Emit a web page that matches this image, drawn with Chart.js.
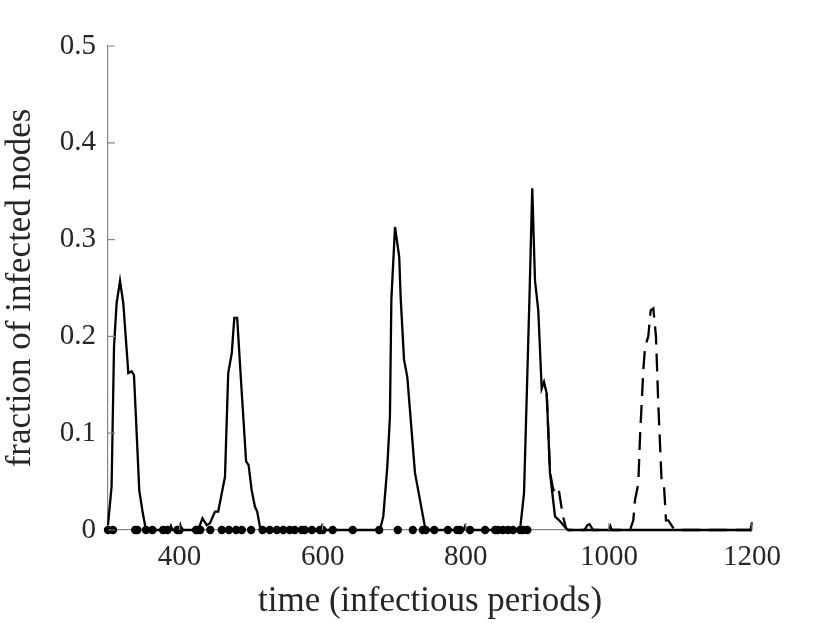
<!DOCTYPE html>
<html>
<head>
<meta charset="utf-8">
<script src="https://cdn.jsdelivr.net/npm/chart.js@4/dist/chart.umd.min.js"></script>
<style>
    html, body { margin: 0; padding: 0; background: #ffffff; }
    canvas { display: block; }
</style>
</head>
<body>
<canvas id="epiChart" width="830" height="623"></canvas>
<script>
// time (infectious periods) and fraction of infected nodes
const solidTime = [300, 305, 308.4, 312, 316.8, 321.4, 328.4, 333, 336.3, 339, 343.7, 348.5, 353,
    386, 388, 390, 399, 401, 403,
    426, 432, 438, 442.5, 449.5, 454, 459, 463.5, 468, 473, 476.5, 480.5, 487, 493, 496.5, 500.8, 505.4, 508.5, 512.4, 516,
    597, 599, 601,
    680, 684.7, 690.3, 694, 696, 701.1, 707, 709, 713.7, 718.3, 729, 736, 743, 745.4,
    797, 799, 801,
    875.8, 881.4, 886, 889, 892.9, 896.7, 901.3, 906.1, 909.3, 913.1, 917.7, 924.7, 931.7, 940, 943.3,
    966, 970, 973, 978,
    1198, 1200];
const solidFrac = [0.005, 0.045, 0.189, 0.234, 0.2575, 0.234, 0.162, 0.164, 0.160, 0.117, 0.041, 0.018, 0,
    0, 0.004, 0, 0, 0.005, 0,
    0, 0.012, 0.005, 0.007, 0.019, 0.019, 0.038, 0.055, 0.162, 0.183, 0.219, 0.219, 0.141, 0.071, 0.067, 0.041, 0.024, 0.019, 0.003, 0,
    0, 0.004, 0,
    0, 0.014, 0.065, 0.117, 0.238, 0.313, 0.282, 0.24, 0.176, 0.158, 0.059, 0.031, 0.003, 0,
    0, 0.004, 0,
    0, 0.038, 0.16, 0.24, 0.353, 0.258, 0.227, 0.146, 0.153, 0.141, 0.059, 0.014, 0.009, 0.002, 0,
    0, 0.005, 0.006, 0,
    0, 0.008];

// second run, dashed, only where it leaves the solid one
const dashTime = [913.1, 917.7, 922.3, 929.3, 935.5, 940, 943,
    1000, 1002, 1004,
    1029.5, 1034.1, 1036.5, 1041.1, 1043.5, 1048.1, 1050.5, 1055.1, 1058.4, 1062.1, 1065.8, 1069, 1073.8, 1077, 1079.8, 1083, 1090, 1092.4,
    1200];
const dashFrac = [0.141, 0.06, 0.041, 0.045, 0.015, 0.002, 0,
    0, 0.004, 0,
    0, 0.01, 0.031, 0.048, 0.096, 0.165, 0.189, 0.2, 0.227, 0.229, 0.2, 0.131, 0.048, 0.046, 0.01, 0.01, 0.002, 0,
    0];

// markers sitting on the time axis
const dotTime = [300, 307, 338, 341, 353, 362, 377, 383, 397, 400, 423, 426, 429, 443, 459, 469, 479, 487, 500,
    516, 526, 536, 545, 554, 561, 571, 575, 585, 596, 600, 614, 642, 679, 705, 726, 740, 744, 756,
    775, 788, 792, 806, 827, 841, 845, 852, 859, 866, 876, 880, 886];

const xTicks = [400, 600, 800, 1000, 1200];
const yTicks = [0, 0.1, 0.2, 0.3, 0.4, 0.5];

const AXIS_GRAY = '#858585';
const FONT = '"Liberation Serif", "Times New Roman", serif';

function toPoints(xs, ys) {
    return xs.map((x, i) => ({ x: x, y: ys[i] }));
}

// ticks pointing inward, like the original axes
const inwardTicks = {
    id: 'inwardTicks',
    afterDraw(chart) {
        const ctx = chart.ctx;
        const xs = chart.scales.x;
        const ys = chart.scales.y;
        const area = chart.chartArea;
        ctx.save();
        ctx.strokeStyle = AXIS_GRAY;
        ctx.lineWidth = 1.2;
        ctx.beginPath();
        xTicks.forEach(v => {
            const px = xs.getPixelForValue(v);
            ctx.moveTo(px, area.bottom);
            ctx.lineTo(px, area.bottom - 7);
        });
        yTicks.forEach(v => {
            const py = ys.getPixelForValue(v);
            ctx.moveTo(area.left, py);
            ctx.lineTo(area.left + 7, py);
        });
        ctx.stroke();
        ctx.restore();
    }
};

const ctx = document.getElementById('epiChart').getContext('2d');
new Chart(ctx, {
    type: 'line',
    data: {
        datasets: [
            {
                data: toPoints(dashTime, dashFrac),
                borderColor: '#000000',
                borderWidth: 2.3,
                borderDash: [18, 9],
                pointRadius: 0,
                tension: 0,
                clip: false
            },
            {
                data: toPoints(solidTime, solidFrac),
                borderColor: '#000000',
                borderWidth: 2.3,
                pointRadius: 0,
                tension: 0,
                clip: false
            },
            {
                data: dotTime.map(t => ({ x: t, y: 0 })),
                showLine: false,
                pointRadius: 4.2,
                pointBackgroundColor: '#000000',
                pointBorderColor: '#000000',
                pointBorderWidth: 0,
                clip: false
            }
        ]
    },
    options: {
        responsive: false,
        animation: false,
        layout: {
            padding: { top: 46, right: 78, left: 0, bottom: 0 }
        },
        plugins: {
            legend: { display: false },
            tooltip: { enabled: false }
        },
        scales: {
            x: {
                type: 'linear',
                min: 300,
                max: 1200,
                afterBuildTicks: scale => {
                    scale.ticks = xTicks.map(v => ({ value: v }));
                },
                afterFit: scale => { scale.height = 93; },
                grid: { drawOnChartArea: false, drawTicks: false },
                border: { color: AXIS_GRAY, width: 1.2 },
                ticks: {
                    padding: 10,
                    color: '#262626',
                    font: { family: FONT, size: 29 },
                    maxRotation: 0,
                    callback: v => String(v)
                },
                title: {
                    display: true,
                    text: 'time (infectious periods)',
                    color: '#262626',
                    font: { family: FONT, size: 35 },
                    padding: { top: 2, bottom: 0 }
                }
            },
            y: {
                min: 0,
                max: 0.5,
                afterBuildTicks: scale => {
                    scale.ticks = yTicks.map(v => ({ value: v }));
                },
                afterFit: scale => { scale.width = 108; },
                grid: { drawOnChartArea: false, drawTicks: false },
                border: { color: AXIS_GRAY, width: 1.2 },
                ticks: {
                    padding: 12,
                    color: '#262626',
                    font: { family: FONT, size: 29 },
                    callback: v => (v === 0 ? '0' : v.toFixed(1))
                },
                title: {
                    display: true,
                    text: 'fraction of infected nodes',
                    color: '#262626',
                    font: { family: FONT, size: 35 },
                    padding: { top: 0, bottom: 0 }
                }
            }
        }
    },
    plugins: [inwardTicks]
});
</script>
</body>
</html>
